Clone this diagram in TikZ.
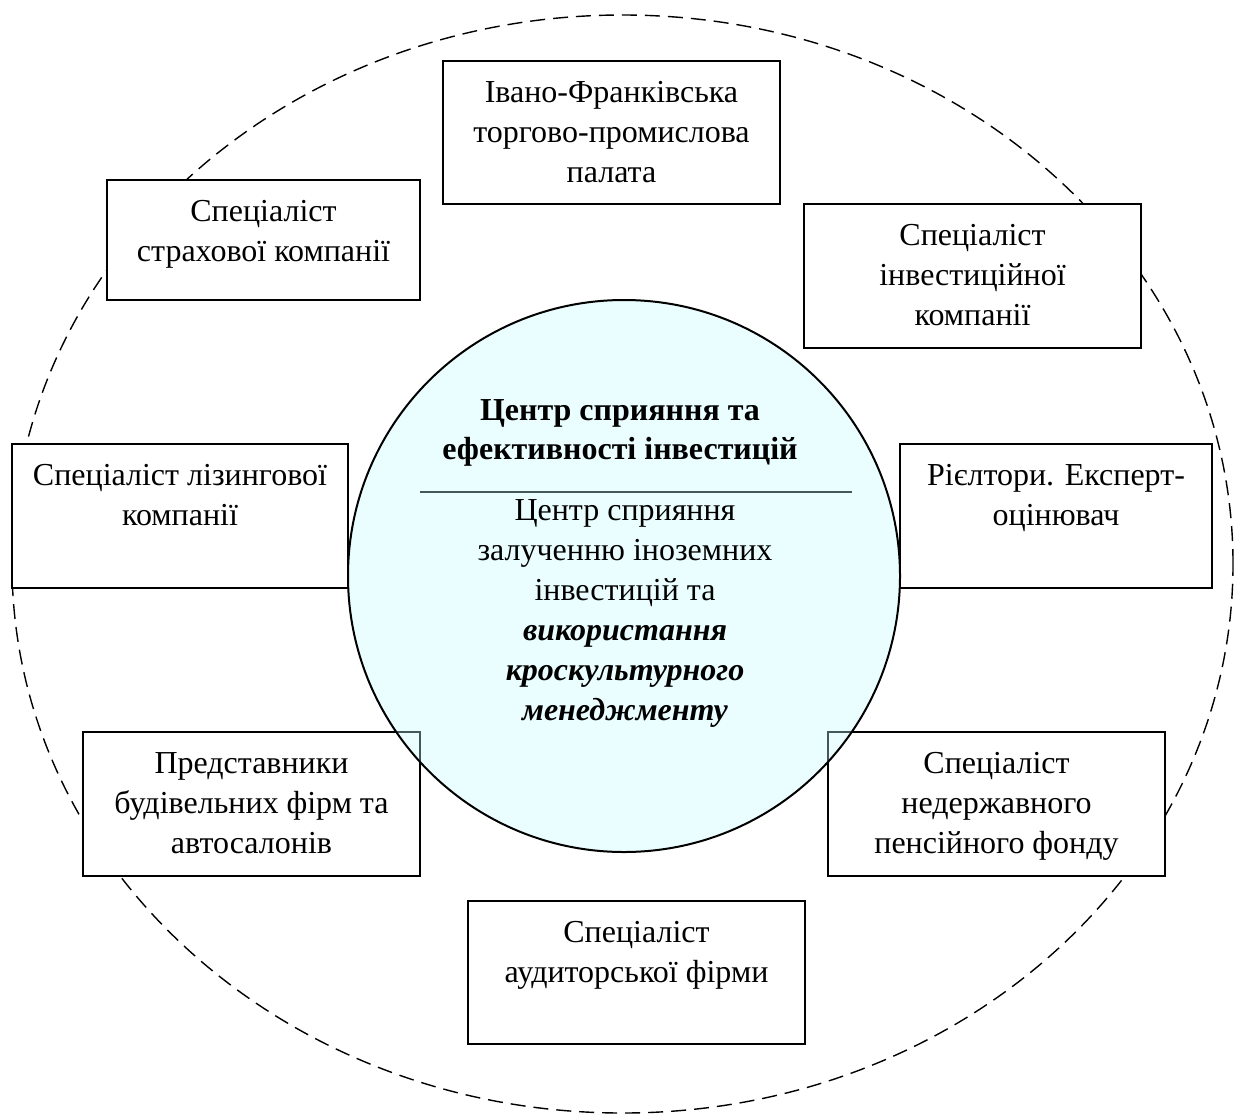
\documentclass[tikz,border=0pt]{standalone}
\usepackage{fontspec}
\setmainfont{Liberation Serif}
\definecolor{cyanfill}{RGB}{198,252,255}
\begin{document}
\begin{tikzpicture}[x=0.5pt,y=-0.5pt,
  box/.style={draw, line width=1pt, fill=white, inner sep=0pt},
  lbl/.style={font=\fontsize{16pt}{20pt}\selectfont, align=center, inner sep=0pt, anchor=north},
  outer/.style={draw, line width=0.7pt, dash pattern=on 7.5pt off 4pt},
  hub/.style={circle, draw, line width=1pt, fill=cyanfill, fill opacity=0.35, draw opacity=1, inner sep=0pt, minimum size=276pt}]
\useasboundingbox (0,0) rectangle (1235,1119);
% outer dashed ellipse
\draw[outer] (622.5,564) ellipse [x radius=305.25pt, y radius=274.5pt];
% boxes
\node[box, minimum width=168.5pt, minimum height=71.5pt] (b1) at (611.5,132.5) {};
\node[box, minimum width=156.5pt, minimum height=60pt] (b2) at (263.5,240) {};
\node[box, minimum width=168.5pt, minimum height=72pt] (b3) at (972.5,276) {};
\node[box, minimum width=168pt, minimum height=72pt] (b4) at (180,516) {};
\node[box, minimum width=156pt, minimum height=72pt] (b5) at (1056,516) {};
\node[box, minimum width=168.5pt, minimum height=72pt] (b6) at (251.5,804) {};
\node[box, minimum width=168.5pt, minimum height=72pt] (b7) at (996.5,804) {};
\node[box, minimum width=168.5pt, minimum height=71.5pt] (b8) at (636.5,972.5) {};
% separator line (under the translucent circle)
\coordinate (l1) at (420,492);
\coordinate (l2) at (852,492);
\draw[line width=1pt] (l1) -- (l2);
% central circle
\node[hub] (hub) at (624,576) {};
% box labels
\node[lbl] (t1) at ([yshift=-7pt]b1.north) {\strut Івано-Франківська\\торгово-промислова\\палата};
\node[lbl] (t2) at ([yshift=-7pt]b2.north) {\strut Спеціаліст\\страхової компанії};
\node[lbl] (t3) at ([yshift=-7pt]b3.north) {\strut Спеціаліст\\інвестиційної\\компанії};
\node[lbl] (t4) at ([yshift=-7pt]b4.north) {\strut Спеціаліст лізингової\\компанії};
\node[lbl] (t5) at ([yshift=-7pt]b5.north) {\strut Рієлтори. Експерт-\\оцінювач};
\node[lbl] (t6) at ([yshift=-7pt]b6.north) {\strut Представники\\будівельних фірм та\\автосалонів};
\node[lbl] (t7) at ([yshift=-7pt]b7.north) {\strut Спеціаліст\\недержавного\\пенсійного фонду};
\node[lbl] (t8) at ([yshift=-7pt]b8.north) {\strut Спеціаліст\\аудиторської фірми};
% circle texts
\node[lbl, font=\fontsize{16pt}{19.5pt}\selectfont\bfseries] (c1) at (620,393) {\strut Центр сприяння та\\ефективності інвестицій};
\node[lbl] (c2) at (625,492) {\strut Центр сприяння\\залученню іноземних\\інвестицій та\\{\bfseries\itshape використання}\\{\bfseries\itshape кроскультурного}\\{\bfseries\itshape менеджменту}};
\end{tikzpicture}
\end{document}
